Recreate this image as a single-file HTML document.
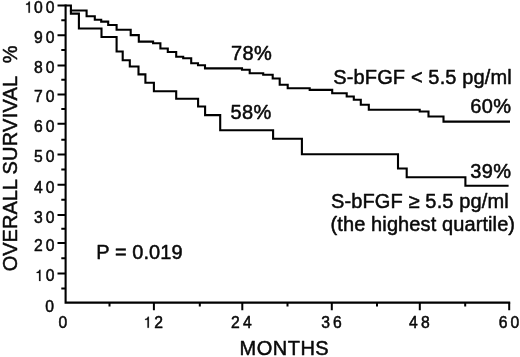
<!DOCTYPE html>
<html>
<head>
<meta charset="utf-8">
<style>
html,body{margin:0;padding:0;background:#fff;}
body{width:520px;height:357px;overflow:hidden;position:relative;font-family:"Liberation Sans",sans-serif;}
svg{position:absolute;left:0;top:0;display:block;will-change:transform;}
text{font-family:"Liberation Sans",sans-serif;fill:#0a0a0a;stroke:#0a0a0a;stroke-width:0.5px;stroke-linejoin:round;}
.t{stroke-width:0.2px;font-size:15.7px;letter-spacing:3.1px;text-anchor:end;}
.x{stroke-width:0.2px;font-size:15.7px;letter-spacing:3.1px;text-anchor:middle;}
.a{font-size:20px;}
</style>
</head>
<body>
<svg width="520" height="357" viewBox="0 0 520 357">
<rect width="520" height="357" fill="#fff"/>
<defs><path id="one" d="M259 0V505H102V565C185 570 245 600 283 709H349V0Z"/></defs>
<!-- axes -->
<g stroke="#000" stroke-width="2.1" fill="none" stroke-linecap="butt">
<path d="M65.6 4.4V302.6H510.2"/>
</g>
<g stroke="#000" stroke-width="2" fill="none">
<!-- y major -->
<path d="M57.5 5.4H65.6M57.5 35.3H65.6M57.5 65.4H65.6M57.5 94.5H65.6M57.5 123.7H65.6M57.5 154.5H65.6M57.5 184.7H65.6M57.5 215H65.6M57.5 243.1H65.6M57.5 273.4H65.6"/>
<!-- y minor -->
<path d="M61.3 20.2H65.6M61.3 50.1H65.6M61.3 79.8H65.6M61.3 109.1H65.6M61.3 139.8H65.6M61.3 169.6H65.6M61.3 199.8H65.6M61.3 228.7H65.6M61.3 258.3H65.6M61.3 288.5H65.6"/>
<!-- x major -->
<path d="M153.9 302.6V310.2M242.3 302.6V310.2M331.8 302.6V310.2M419.8 302.6V310.2M509.2 302.6V310.2"/>
<!-- x minor -->
<path d="M109.5 302.6V306.6M199.8 302.6V306.6M287.5 302.6V306.6M377 302.6V306.6M465.2 302.6V306.6"/>
</g>
<!-- curves -->
<g stroke="#000" stroke-width="2.1" fill="none" stroke-linejoin="miter">
<path d="M65.5 5.5H70.9V10.5H86.6V16.2H94.8V19.7H101.2V21.6H108.2V25H116.6V29.8H130.7V35.1H138.8V41.6H153.1V43.2H160.4V48.5H167.8V52H176.2V56.7H183.2V58.2H191.2V63.2H198V65.2H205V68.4H242V69.7H249.7V73.2H263.2V74.8H272.7V78.5H279.7V84.7H287.7V88.2H309.7V89.9H332.2V93.3H346.7V96.5H353.8V99.8H360.8V104.8H368.8V109.8H419.7V111.5H428.5V116.5H443.5V121.6H510"/>
<path d="M70.9 10.5V13.6H78.9V28.5H101.5V37H116.6V51.5H122.7V60.2H129.8V66.5H138.5V74.4H145.4V82.8H153.9V91.2H176.2V98.7H198.1V106.5H205.1V115.1H220.2V130.2H273.1V138.8H301.9V154.2H398V168.5H406.7V177.3H465.4V185.8H508.6"/>
</g>
<!-- y tick labels -->
<g class="t">
<text x="57.7" y="12.7">00</text>
<text x="57.7" y="42.8">90</text>
<text x="57.7" y="73.2">80</text>
<text x="57.7" y="102.1">70</text>
<text x="57.7" y="131.8">60</text>
<text x="57.7" y="162.4">50</text>
<text x="57.7" y="192.6">40</text>
<text x="57.7" y="222.7">30</text>
<text x="57.7" y="250.9">20</text>
<text x="57.7" y="281">0</text>
<text x="57.1" y="311.8">0</text>
</g>
<!-- x tick labels -->
<g class="x">
<text x="64.3" y="327.9">0</text>
<text x="154.3" y="327.8" style="text-anchor:start">2</text>
<text x="242.9" y="327.8">24</text>
<text x="333" y="327.8">36</text>
<text x="420.9" y="327.8">48</text>
<text x="510.6" y="327.8">60</text>
</g>
<g fill="#0a0a0a" stroke="#0a0a0a" stroke-width="12">
<use href="#one" transform="translate(24.4,12.7) scale(0.0157,-0.0157)"/>
<use href="#one" transform="translate(35,281) scale(0.0157,-0.0157)"/>
<use href="#one" transform="translate(143.4,327.8) scale(0.0157,-0.0157)"/>
</g>
<!-- annotations -->
<g class="a">
<text x="230.9" y="59.6" style="letter-spacing:0.4px">78%</text>
<text x="230.6" y="119" style="letter-spacing:0.3px">58%</text>
<text x="333.3" y="83.6" style="letter-spacing:0.13px">S-bFGF &lt; 5.5 pg/ml</text>
<text x="470.3" y="113.2" style="letter-spacing:0.3px">60%</text>
<text x="470.3" y="178" style="letter-spacing:0.3px">39%</text>
<text x="331" y="207.6" style="letter-spacing:0.13px">S-bFGF ≥ 5.5 pg/ml</text>
<text x="330.6" y="230.5" style="letter-spacing:0.1px">(the highest quartile)</text>
<text x="96.3" y="258.9" style="letter-spacing:0.05px">P = 0.019</text>
<text x="239.5" y="355" style="letter-spacing:0.5px">MONTHS</text>
<text transform="translate(16.6,271.3) rotate(-90)">OVERALL</text>
<text transform="translate(16.6,174.5) rotate(-90)" style="letter-spacing:0.23px">SURVIVAL</text>
<text transform="translate(16.6,63.3) rotate(-90)">%</text>
</g>
</svg>
</body>
</html>
